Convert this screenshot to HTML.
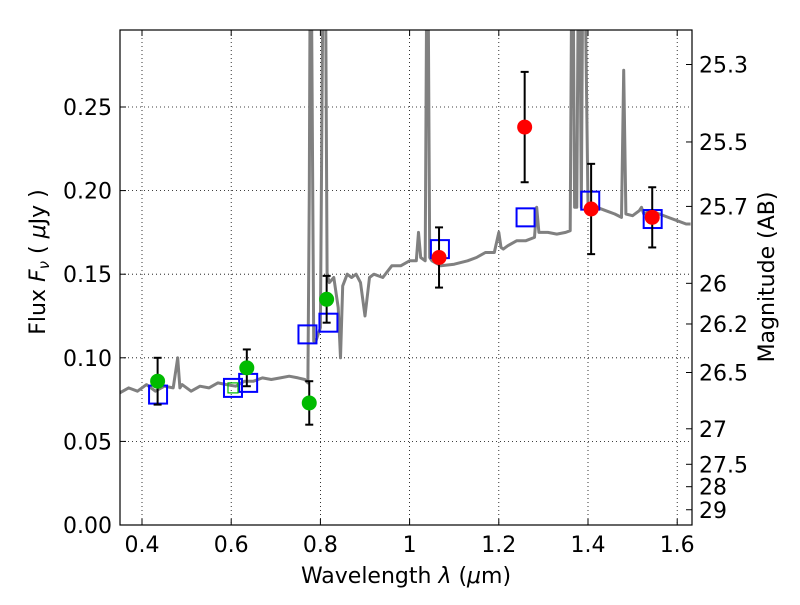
<!DOCTYPE html>
<html><head><meta charset="utf-8"><style>
body{margin:0;background:#fff;}
svg text{font-family:"DejaVu Sans","Liberation Sans",sans-serif;}
</style></head><body>
<svg id="c" width="800" height="600" xmlns="http://www.w3.org/2000/svg"></svg>
<script>
const specLam=[0.35,0.37,0.39,0.41,0.43,0.45,0.47,0.48,0.485,0.49,0.51,0.53,0.55,0.57,0.59,0.61,0.63,0.65,0.67,0.69,0.71,0.73,0.75,0.765,0.772,0.775,0.778,0.785,0.79,0.8,0.805,0.81,0.815,0.82,0.83,0.84,0.845,0.85,0.86,0.87,0.88,0.89,0.9,0.91,0.92,0.94,0.96,0.98,1.0,1.015,1.02,1.025,1.035,1.04,1.045,1.05,1.07,1.1,1.13,1.15,1.17,1.19,1.2,1.205,1.21,1.22,1.24,1.26,1.28,1.285,1.29,1.31,1.33,1.35,1.36,1.365,1.37,1.375,1.38,1.385,1.39,1.4,1.42,1.44,1.46,1.475,1.48,1.485,1.5,1.515,1.52,1.525,1.54,1.56,1.58,1.6,1.62,1.63];
const specFlux=[0.079,0.082,0.08,0.084,0.08,0.083,0.082,0.1,0.082,0.084,0.08,0.083,0.082,0.085,0.084,0.083,0.086,0.086,0.088,0.087,0.088,0.089,0.088,0.087,0.085,0.2,0.4,0.11,0.11,0.118,0.3,0.4,0.15,0.145,0.148,0.13,0.1,0.143,0.15,0.148,0.15,0.145,0.125,0.148,0.15,0.148,0.155,0.155,0.158,0.158,0.175,0.16,0.158,0.4,0.16,0.158,0.155,0.156,0.158,0.16,0.163,0.163,0.175,0.166,0.165,0.167,0.17,0.17,0.172,0.19,0.175,0.175,0.174,0.175,0.176,0.4,0.19,0.19,0.4,0.19,0.4,0.192,0.19,0.188,0.186,0.184,0.272,0.186,0.185,0.188,0.19,0.186,0.188,0.186,0.184,0.182,0.18,0.18];
const photLam=[0.435,0.635,0.775,0.814,1.066,1.258,1.407,1.544];
const photFlux=[0.086,0.094,0.073,0.135,0.160,0.238,0.189,0.184];
const photLo=[0.072,0.083,0.060,0.121,0.142,0.205,0.162,0.166];
const photHi=[0.100,0.105,0.086,0.149,0.178,0.271,0.216,0.202];
const photColor=['#00bb00','#00bb00','#00bb00','#00bb00','#ff0000','#ff0000','#ff0000','#ff0000'];
const modLam=[0.436,0.604,0.638,0.771,0.818,1.068,1.26,1.405,1.545];
const modFlux=[0.078,0.082,0.085,0.114,0.121,0.165,0.184,0.194,0.183];
const xTicks=[0.4,0.6,0.8,1.0,1.2,1.4,1.6];
const xTickLabels=['0.4','0.6','0.8','1','1.2','1.4','1.6'];
const yTicks=[0,0.05,0.10,0.15,0.20,0.25];
const yTickLabels=['0.00','0.05','0.10','0.15','0.20','0.25'];
const magTicks=[25.3,25.5,25.7,26,26.2,26.5,27,27.5,28,29];
const magLabels=['25.3','25.5','25.7','26','26.2','26.5','27','27.5','28','29'];

const L=120,R=692,T=30,B=525;
const X=v=>142+(v-0.4)*446;
const Y=v=>525-v*1672;
const svg=document.getElementById('c');
const NS='http://www.w3.org/2000/svg';
function mk(tag,attrs,parent){const e=document.createElementNS(NS,tag);for(const k in attrs)e.setAttribute(k,attrs[k]);(parent||svg).appendChild(e);return e;}
const defs=mk('defs',{});
const cp=mk('clipPath',{id:'clip'},defs);mk('rect',{x:L,y:T,width:R-L,height:B-T},cp);

xTicks.forEach((v,i)=>{
  const g=mk('line',{x1:X(v),x2:X(v),y1:T,y2:B,stroke:'#000','stroke-dasharray':'1,3','stroke-width':0.8});
  
  mk('line',{x1:X(v),x2:X(v),y1:B,y2:B-6,stroke:'#000'});
  mk('line',{x1:X(v),x2:X(v),y1:T,y2:T+6,stroke:'#000'});
  const t=mk('text',{x:X(v),y:B+27,'font-size':22,'text-anchor':'middle'});t.textContent=xTickLabels[i];
  
});
yTicks.forEach((v,i)=>{
  const g=mk('line',{x1:L,x2:R,y1:Y(v),y2:Y(v),stroke:'#000','stroke-dasharray':'1,3','stroke-width':0.8});
  
  mk('line',{x1:L,x2:L+6,y1:Y(v),y2:Y(v),stroke:'#000'});
  const t=mk('text',{x:L-8,y:Y(v)+8,'font-size':22,'text-anchor':'end'});t.textContent=yTickLabels[i];
  
});
magTicks.forEach((m,i)=>{
  const y=Y(Math.pow(10,(23.9-m)/2.5));
  mk('line',{x1:R,x2:R-6,y1:y,y2:y,stroke:'#000'});
  const t=mk('text',{x:R+7,y:y+8,'font-size':22});t.textContent=magLabels[i];
  
});

const d=specLam.map((l,i)=>(i?'L':'M')+X(l).toFixed(1)+','+Y(specFlux[i]).toFixed(1)).join('');
const sp=mk('path',{d:d,fill:'none',stroke:'#808080','stroke-width':3,'stroke-linejoin':'round','clip-path':'url(#clip)'});


modLam.forEach((l,i)=>{
  const r=mk('rect',{x:X(l)-9,y:Y(modFlux[i])-9,width:18,height:18,fill:'none',stroke:'#0000ff','stroke-width':2});
  
});
mk('rect',{x:X(modLam[1])-5,y:Y(modFlux[1])-5,width:10,height:10,fill:'none',stroke:'#00bb00','stroke-width':1.2});

photLam.forEach((l,i)=>{
  const x=X(l);
  const eb=mk('g',{stroke:'#000','stroke-width':2});
  
  mk('line',{x1:x,x2:x,y1:Y(photLo[i]),y2:Y(photHi[i])},eb);
  mk('line',{x1:x-4,x2:x+4,y1:Y(photLo[i]),y2:Y(photLo[i])},eb);
  mk('line',{x1:x-4,x2:x+4,y1:Y(photHi[i]),y2:Y(photHi[i])},eb);
  const c=mk('circle',{cx:x,cy:Y(photFlux[i]),r:7.5,fill:photColor[i]});
  
});

const fr=mk('rect',{x:L,y:T,width:R-L,height:B-T,fill:'none',stroke:'#000','stroke-width':1.2});


const xl=mk('text',{x:406,y:583,'font-size':22,'text-anchor':'middle'});
xl.innerHTML='Wavelength  <tspan font-style="italic">λ</tspan> (<tspan font-style="italic">μ</tspan>m)';

const yl=mk('text',{x:0,y:0,'font-size':22,'text-anchor':'middle',transform:'translate(45,262) rotate(-90)'});
yl.innerHTML='Flux  <tspan font-style="italic">F</tspan><tspan font-style="italic" font-size="15" dy="4">ν</tspan><tspan dy="-4">  (  </tspan><tspan font-style="italic">μ</tspan>Jy )';

const ml=mk('text',{x:0,y:0,'font-size':22,'text-anchor':'middle',transform:'translate(774,277) rotate(-90)'});
ml.textContent='Magnitude (AB)';

</script>
</body></html>
